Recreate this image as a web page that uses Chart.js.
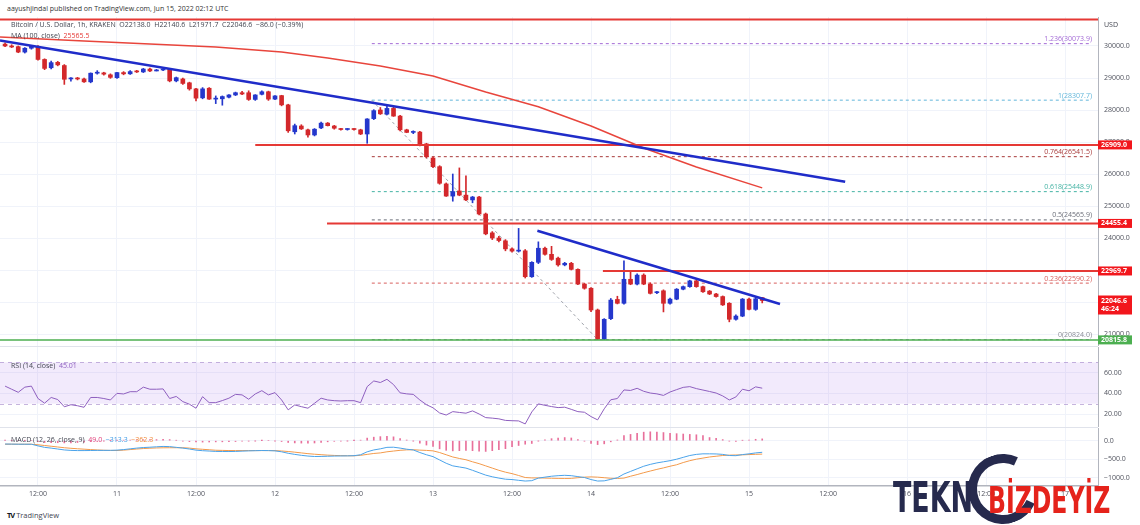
<!DOCTYPE html>
<html>
<head>
<meta charset="utf-8">
<script src="https://cdn.jsdelivr.net/npm/chart.js@4.4.1/dist/chart.umd.min.js"></script>
<style>
  body { margin: 0; background: #fff; width: 1140px; height: 525px; overflow: hidden; position: relative; font-family: "Open Sans", sans-serif; }
  canvas { position: absolute; left: 0; }
  .txt { position: absolute; font-size: 7px; color: #434651; white-space: pre; line-height: 10px; }
  .sep { position: absolute; left: 0; width: 1098px; height: 1px; background: #e0e3eb; }
  #wm { position: absolute; left: 880px; top: 450px; width: 260px; height: 75px; }
</style>
</head>
<body>
<div class="txt" style="left:7px;top:4px;color:#333;">aayushjindal published on TradingView.com, Jun 15, 2022 02:12 UTC</div>

<canvas id="mainChart" width="1140" height="329" style="top:17px"></canvas>
<canvas id="rsiChart" width="1140" height="80" style="top:347px"></canvas>
<canvas id="macdChart" width="1140" height="72" style="top:428px"></canvas>
<div class="sep" style="top:346px"></div>
<div class="sep" style="top:427px"></div>

<div class="txt" style="left:11px;top:20px;">Bitcoin / U.S. Dollar, 1h, KRAKEN  O22138.0  H22140.6  L21971.7  C22046.6  −86.0 (−0.39%)</div>
<div class="txt" style="left:11px;top:31px;">MA (100, close)  <span style="color:#e53935">25565.5</span></div>
<div class="txt" style="left:1104px;top:20px;">USD</div>
<div class="txt" style="left:11px;top:361px;">RSI (14, close)  <span style="color:#8e5fbf">45.01</span></div>
<div class="txt" style="left:11px;top:435px;">MACD (12, 26, close, 9)  <span style="color:#e0407a">49.0</span>  <span style="color:#3d9be6">−313.3</span>  <span style="color:#f0893a">−362.3</span></div>
<div class="txt" style="left:7px;top:510px;font-size:7.5px;"><b style="color:#131722;letter-spacing:-1px">TV</b> TradingView</div>

<div id="wm">
  <div style="position:absolute;left:88px;top:4px;width:52px;height:52px;border:9px solid #262a4d;border-right-color:transparent;border-radius:50%;transform:rotate(-20deg);"></div>
  <div style="position:absolute;left:13px;top:27px;font:bold 42px 'DejaVu Sans';color:#262a4d;transform:scaleX(0.64);transform-origin:left top;line-height:42px;">TEKN</div>
  <div style="position:absolute;left:108px;top:31px;font:bold 38px 'DejaVu Sans';color:#e5231b;transform:scaleX(0.62);transform-origin:left top;line-height:38px;">BİZDEYİZ</div>
</div>

<script>
// hours counted from Jun 11 00:00, one candle per hour
const startHour = -17;

const openPrices = [
  30060, 30000, 29980, 29810, 29930, 29980, 29580, 29320, 29490, 29390,
  28970, 29000, 28970, 28880, 29150, 29160, 29100, 29010, 29170, 29130,
  29200, 29190, 29280, 29220, 29250, 29270, 28910, 28970, 28850, 28660,
  28380, 28680, 28340, 28350, 28400, 28470, 28540, 28540, 28330, 28490,
  28570, 28340, 28450, 28160, 27320, 27500, 27380, 27220, 27440, 27590,
  27500, 27400, 27390, 27400, 27380, 27250, 27730, 28000, 27870, 28050,
  27810, 27380, 27300, 27310, 26940, 26500, 26230, 25690, 25310, 25470,
  25340, 25190, 25280, 24750, 24160, 24000, 23910, 23660, 23590, 23600,
  22790, 23240, 23680, 23490, 23370, 23160, 23210, 23020, 22560, 22430,
  21750, 20840, 21480, 22080, 21960, 22710, 22560, 22840, 22560, 22290,
  22350, 21960, 22090, 22400, 22480, 22660, 22480, 22340, 22250, 22170,
  21960, 21460, 21560, 22090, 21770, 22138
];
const highPrices = [
  30100, 30040, 30000, 29950, 30020, 30010, 29600, 29530, 29520, 29420,
  29010, 29020, 29000, 29160, 29230, 29180, 29130, 29180, 29200, 29230,
  29240, 29300, 29310, 29270, 29270, 29290, 29030, 29000, 28870, 28680,
  28700, 28700, 28440, 28440, 28480, 28560, 28580, 28600, 28480, 28600,
  28590, 28450, 28460, 28180, 27560, 27540, 27400, 27420, 27620, 27610,
  27520, 27430, 27420, 27420, 27400, 27730, 28010, 28080, 28120, 28110,
  27830, 27400, 27350, 27330, 26960, 26530, 26260, 25720, 26000, 26190,
  25940, 25300, 25300, 24780, 24200, 24050, 23950, 23690, 24300, 23640,
  23260, 23880, 23720, 23740, 23400, 23240, 23240, 23040, 22580, 22450,
  21780, 21480, 22110, 22180, 23290, 22950, 22880, 22880, 22600, 22330,
  22380, 22120, 22420, 22500, 22680, 22690, 22500, 22360, 22270, 22190,
  21980, 21600, 22110, 22120, 22150, 22140.6
];
const lowPrices = [
  29980, 29950, 29790, 29780, 29900, 29560, 29260, 29280, 29380, 28800,
  28900, 28940, 28860, 28850, 29120, 29090, 28990, 28990, 29100, 29110,
  29170, 29170, 29200, 29220, 29230, 28880, 28880, 28800, 28620, 28280,
  28350, 28330, 28200, 28150, 28380, 28450, 28480, 28300, 28300, 28470,
  28300, 28320, 28130, 27300, 27250, 27390, 27150, 27190, 27420, 27500,
  27400, 27370, 27370, 27370, 27230, 26960, 27700, 27860, 27850, 27800,
  27350, 27290, 27260, 26880, 26500, 26200, 25680, 25300, 25150, 25320,
  25170, 25100, 24720, 24100, 23950, 23880, 23600, 23560, 23560, 22750,
  22770, 23200, 23460, 23300, 23120, 23130, 23000, 22540, 22400, 21700,
  20824, 20824, 21450, 21940, 21930, 22540, 22530, 22540, 22250, 22260,
  21690, 21930, 22070, 22380, 22460, 22460, 22300, 22230, 22150, 21890,
  21380, 21430, 21540, 21750, 21740, 21971.7
];
const closePrices = [
  30000, 29970, 29810, 29930, 30000, 29580, 29300, 29480, 29410, 28960,
  29000, 28970, 28880, 29150, 29160, 29120, 29020, 29170, 29130, 29200,
  29190, 29280, 29220, 29250, 29250, 28910, 29010, 28830, 28660, 28370,
  28660, 28340, 28350, 28420, 28470, 28540, 28500, 28330, 28470, 28570,
  28340, 28440, 28160, 27350, 27510, 27410, 27220, 27400, 27590, 27510,
  27430, 27390, 27400, 27390, 27250, 27720, 27980, 27880, 28050, 27810,
  27380, 27300, 27310, 26910, 26540, 26230, 25710, 25310, 25450, 25340,
  25190, 25280, 24750, 24130, 24000, 23920, 23660, 23590, 23600, 22790,
  23240, 23680, 23490, 23330, 23160, 23210, 23020, 22560, 22430, 21750,
  20840, 21460, 22060, 21960, 22710, 22560, 22840, 22560, 22270, 22300,
  21960, 22090, 22400, 22480, 22660, 22480, 22320, 22250, 22170, 21910,
  21460, 21560, 22090, 21770, 22100, 22046.6
];

const rsiValues = [
  47, 44, 41, 46, 47, 35, 30.5, 36, 34, 27,
  29, 28, 26.5, 36, 36, 35, 33.6, 40, 39.4, 41.6,
  41.6, 46, 44, 44, 44.3, 35, 37, 32, 29.5, 25.6,
  36.8, 31, 31, 33, 35.3, 39, 38.5, 34.3, 39.4, 42.6,
  38.5, 40.7, 33.6, 24, 28.8, 27.1, 25.6, 30.4, 35.3, 33.6,
  32.9, 32.6, 32.9, 32.9, 31, 46.5, 52, 50.5, 53.6, 48.5,
  40.5, 39.5, 39, 33.6, 29, 26, 21, 19, 22.3, 21.5,
  20.8, 23, 20, 16.5, 16, 15.3, 13.8, 13.5, 13.3, 10.4,
  22, 29.8, 28.4, 27.2, 26.2, 26.6, 24.5, 22.3, 21.7, 17.5,
  14.3, 25, 33.8, 35, 43.3, 42.8, 44.9, 42, 40.3, 39.5,
  38, 41.3, 43.6, 45.8, 46.5, 44.6, 43.2, 41.8, 40.3, 37.5,
  33.6, 36.5, 44, 42.5, 46.3, 45.01
];

const macdValues = [
  -90, -92, -95, -95, -96, -140, -180, -200, -225, -250,
  -262, -267, -267, -265, -262, -262, -261, -255, -240, -220,
  -200, -185, -176, -165, -155, -160, -180, -200, -225, -255,
  -270, -280, -290, -292, -293, -290, -282, -275, -270, -265,
  -267, -275, -300, -340, -370, -395, -415, -427, -425, -420,
  -415, -412, -410, -405, -380, -300, -250, -220, -180, -176,
  -200, -230, -250, -320, -380, -430, -520, -610, -680, -710,
  -740, -800, -865, -930, -975, -1010, -1040, -1050, -1070, -1090,
  -1080, -1010, -985, -960, -945, -935, -945, -970, -995, -1050,
  -1090, -1085, -1045, -1000, -900, -830, -760, -690, -640, -600,
  -570, -540, -500, -450, -400, -370, -355, -355, -358, -370,
  -400, -405, -375, -355, -330, -313.3
];
const signalValues = [
  -95, -95, -95, -96, -96, -110, -130, -150, -170, -190,
  -205, -218, -229, -240, -250, -258, -263, -265, -255, -240,
  -225, -212, -203, -196, -192, -190, -190, -190, -200, -220,
  -232, -245, -258, -262, -266, -267, -267, -267, -267, -267,
  -267, -268, -278, -292, -310, -330, -350, -365, -378, -390,
  -398, -404, -407, -408, -395, -370, -345, -330, -300, -280,
  -260, -248, -245, -255, -262, -275, -320, -380, -440, -480,
  -515, -570, -620, -680, -740, -800, -850, -890, -940, -995,
  -1005, -1005, -1010, -1015, -1018, -1020, -1018, -1000, -985, -978,
  -985, -1000, -1015, -1020, -1010, -960, -915, -865, -820, -775,
  -735, -690, -650, -590, -540, -500, -470, -440, -420, -400,
  -390, -386, -383, -375, -368, -362.3
];
const histValues = [
  5, 3, 0, 1, 0, -25, -50, -50, -55, -60,
  -57, -49, -38, -25, -12, -4, 2, 10, 15, 20,
  25, 27, 27, 31, 37, 30, 10, -10, -25, -35,
  -38, -35, -32, -30, -27, -23, -15, -8, -3, 2,
  0, -7, -22, -48, -60, -65, -65, -62, -47, -30,
  -17, -8, -3, 3, 15, 70, 95, 110, 120, 104,
  60, 18, -5, -65, -118, -155, -220, -260, -275, -270,
  -265, -270, -285, -290, -270, -245, -215, -160, -130, -95,
  -75, -5, 25, 55, 73, 85, 73, 30, -10, -72,
  -105, -85, -30, 20, 140, 170, 200, 230, 240, 235,
  220, 200, 190, 180, 170, 160, 140, 85, 62, 30,
  -10, -19, 8, 20, 38, 49
];

// MA(100)
const maHours = [-17.77, -5, 5, 15, 25, 32, 40, 48, 56, 64, 72, 80, 88, 98];
const maValues = [30281, 30156, 30062, 29969, 29812, 29625, 29375, 29062, 28560, 28100, 27500, 26812, 26219, 25565.5];

// blue trend lines
const trend1Hours = [-17.77, 110.6];
const trend1Prices = [30170, 25760];
const trend2Hours = [63.85, 100.7];
const trend2Prices = [24228, 21937];

// horizontal levels
const resistancePrices = [30830, 26909.0, 24455.4, 22969.7];
const resistanceFrom = [-17.77, 21, 31.9, 73.8];
const supportPrice = 20815.8;

// fibonacci retracement
const fibRatios = ['1.236', '1', '0.764', '0.618', '0.5', '0.236', '0'];
const fibPrices = [30073.9, 28307.7, 26541.5, 25448.9, 24565.9, 22590.2, 20824.0];
const fibColors = ['#a46cd6', '#62b6da', '#a83a3a', '#45b3a4', '#6b6e78', '#d9605e', '#8a8d96'];
const fibFrom = 38.7;
const fibTo = 147.8;
const fibSwingHours = [38.7, 73];

const priceTagValues = [26909.0, 24455.4, 22969.7, 22046.6, 20815.8];
const priceTagColors = ['#f2161c', '#f2161c', '#f2161c', '#f2161c', '#4caf50'];
const countdown = '46:24';

const xTickHours = [-12, 0, 12, 24, 36, 48, 60, 72, 84, 96, 108, 120, 132, 144];
const xTickLabels = ['12:00', '11', '12:00', '12', '12:00', '13', '12:00', '14', '12:00', '15', '12:00', '16', '12:00', '17'];
const priceTicks = [21000, 22000, 23000, 24000, 25000, 26000, 27000, 28000, 29000, 30000];
const rsiTicks = [20, 40, 60];
const macdTicks = [-1000, -500, 0];

const xMin = -17.77;
const xMax = 149.0;
const gridColor = '#f0f3fa';
const upColor = '#2437cc';
const downColor = '#d3282b';

Chart.defaults.font.family = "'Open Sans', sans-serif";
Chart.defaults.font.size = 7;
Chart.defaults.animation = false;

const hours = closePrices.map((_, i) => startHour + i);
const candleColors = closePrices.map((c, i) => (c >= openPrices[i] ? upColor : downColor));
const minus = v => String(v).replace('-', '−');

function xAxis(showLabels) {
  return {
    type: 'linear', min: xMin, max: xMax, offset: false,
    grid: { color: gridColor, drawTicks: false, offset: false },
    border: { display: showLabels, color: '#b2b5be', width: 1.5 },
    afterBuildTicks: ax => { ax.ticks = xTickHours.map(v => ({ value: v })); },
    ticks: {
      display: showLabels, autoSkip: false, maxRotation: 0, padding: 4, color: '#50535e',
      callback: (v, i) => xTickLabels[i]
    },
    afterFit: ax => { ax.height = showLabels ? 14 : 0; ax.paddingLeft = 0; ax.paddingRight = 0; }
  };
}

function yAxis(min, max, ticks, fmt) {
  return {
    position: 'right', min, max,
    grid: { color: gridColor, drawTicks: false },
    border: { color: '#b2b5be' },
    afterBuildTicks: ax => { ax.ticks = ticks.map(v => ({ value: v })); },
    ticks: { padding: 6, color: '#50535e', callback: fmt },
    afterFit: ax => { ax.width = 42; ax.paddingTop = 0; ax.paddingBottom = 0; }
  };
}

function lineSet(xs, ys, color, width, dash, order) {
  return {
    type: 'line', data: xs.map((x, i) => ({ x, y: ys[i] })),
    borderColor: color, borderWidth: width, borderDash: dash || [],
    pointRadius: 0, tension: 0, order: order
  };
}

const baseOptions = {
  responsive: false,
  devicePixelRatio: 1,
  layout: { padding: 0 },
  plugins: { legend: { display: false }, tooltip: { enabled: false } }
};

// Main price panel
const fibLabelPlugin = {
  id: 'fibLabels',
  afterDatasetsDraw(chart) {
    const { ctx, scales: { y } } = chart;
    ctx.save();
    ctx.font = "7px 'Open Sans', sans-serif";
    ctx.textAlign = 'right';
    ctx.textBaseline = 'bottom';
    fibPrices.forEach((p, i) => {
      ctx.fillStyle = fibColors[i];
      ctx.fillText(fibRatios[i] + '(' + p.toFixed(1) + ')', 1092, y.getPixelForValue(p) - 1);
    });
    ctx.restore();
  }
};

const priceTagPlugin = {
  id: 'priceTags',
  afterDraw(chart) {
    const { ctx, scales: { y }, chartArea } = chart;
    ctx.save();
    ctx.font = "bold 7px 'Open Sans', sans-serif";
    ctx.textAlign = 'left';
    ctx.textBaseline = 'middle';
    priceTagValues.forEach((p, i) => {
      const py = y.getPixelForValue(p);
      const last = i === 3;
      ctx.fillStyle = priceTagColors[i];
      ctx.fillRect(chartArea.right, last ? py - 5 : py - 4.5, 34, last ? 19 : 9);
      ctx.fillStyle = '#fff';
      ctx.fillText(p.toFixed(1), chartArea.right + 3, py);
      if (last) ctx.fillText(countdown, chartArea.right + 3, py + 8.5);
    });
    ctx.restore();
  }
};

const mainDatasets = [
  {
    type: 'bar', grouped: false, order: 5, barThickness: 1,
    data: hours.map((h, i) => ({ x: h, y: [lowPrices[i], highPrices[i]] })),
    backgroundColor: candleColors
  },
  {
    type: 'bar', grouped: false, order: 4, barThickness: 4, minBarLength: 1,
    data: hours.map((h, i) => ({ x: h, y: [openPrices[i], closePrices[i]] })),
    backgroundColor: candleColors
  },
  lineSet(maHours, maValues, '#e8453c', 1.5, null, 2),
  lineSet(trend1Hours, trend1Prices, '#1f2cc9', 2.5, null, 1),
  lineSet(trend2Hours, trend2Prices, '#1f2cc9', 2.5, null, 1),
  lineSet(fibSwingHours, [fibPrices[1], fibPrices[6]], '#a0a3ab', 1, [3, 3], 6),
  lineSet([xMin, xMax], [supportPrice, supportPrice], '#4caf50', 1.5, null, 3)
];
fibPrices.forEach((p, i) => {
  mainDatasets.push(lineSet([fibFrom, fibTo], [p, p], fibColors[i], 1, [3, 3], 6));
});
resistancePrices.forEach((p, i) => {
  mainDatasets.push(lineSet([resistanceFrom[i], xMax], [p, p], '#e53935', 2, null, 3));
});

new Chart(document.getElementById('mainChart'), {
  type: 'bar',
  data: { datasets: mainDatasets },
  options: {
    ...baseOptions,
    scales: {
      x: xAxis(false),
      y: yAxis(20625, 30906.25, priceTicks, v => v.toFixed(1))
    }
  },
  plugins: [fibLabelPlugin, priceTagPlugin]
});

// RSI panel
const rsiBandPlugin = {
  id: 'rsiBand',
  beforeDatasetsDraw(chart) {
    const { ctx, scales: { y }, chartArea } = chart;
    const top = y.getPixelForValue(70);
    const bottom = y.getPixelForValue(30);
    ctx.save();
    ctx.fillStyle = 'rgba(156, 96, 230, 0.13)';
    ctx.fillRect(chartArea.left, top, chartArea.width, bottom - top);
    ctx.strokeStyle = 'rgba(160, 130, 200, 0.6)';
    ctx.setLineDash([4, 4]);
    ctx.lineWidth = 1;
    [top, bottom].forEach(py => {
      ctx.beginPath();
      ctx.moveTo(chartArea.left, Math.round(py) + 0.5);
      ctx.lineTo(chartArea.right, Math.round(py) + 0.5);
      ctx.stroke();
    });
    ctx.restore();
  }
};

new Chart(document.getElementById('rsiChart'), {
  type: 'line',
  data: {
    datasets: [lineSet(hours, rsiValues, '#8e5fbf', 1, null, 1)]
  },
  options: {
    ...baseOptions,
    scales: {
      x: xAxis(false),
      y: yAxis(7.41, 84.89, rsiTicks, v => v.toFixed(2))
    }
  },
  plugins: [rsiBandPlugin]
});

// MACD panel
new Chart(document.getElementById('macdChart'), {
  type: 'bar',
  data: {
    datasets: [
      {
        type: 'bar', grouped: false, order: 3, barThickness: 1,
        data: hours.map((h, i) => ({ x: h, y: histValues[i] })),
        backgroundColor: 'rgba(224, 64, 122, 0.75)'
      },
      lineSet(hours, macdValues, '#4aa3ea', 1, null, 1),
      lineSet(hours, signalValues, '#f39a4b', 1, null, 2)
    ]
  },
  options: {
    ...baseOptions,
    scales: {
      x: xAxis(true),
      y: yAxis(-1224, 343, macdTicks, v => minus(v.toFixed(1)))
    }
  }
});
</script>
</body>
</html>
